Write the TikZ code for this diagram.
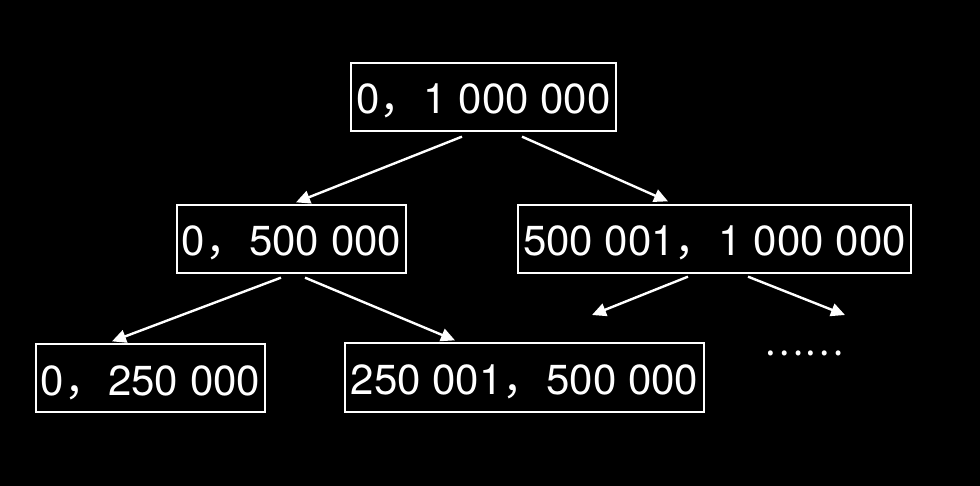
\documentclass[tikz,border=0pt]{standalone}
\usepackage{fontspec}
\setmainfont{TeX Gyre Heros}
\newfontfamily\cjk{Noto Sans CJK SC}
\usetikzlibrary{arrows.meta}
\newcommand\fwcomma{{\cjk ，}\hspace{2pt}}
\begin{document}
\begin{tikzpicture}[x=1pt,y=-1pt,
  box/.style={draw=white, line width=1.3pt, text=white, inner sep=0pt,
    text height=34pt, text depth=0pt,
    font=\fontsize{42}{42}\selectfont},
  arr/.style={draw=white, line width=2.4pt, -{Triangle[length=14pt,width=13pt]}}]
\fill[black] (0,0) rectangle (980,486);
\useasboundingbox (0,0) rectangle (980,486);
\node[box, minimum width=265pt, minimum height=68pt] (b1) at (483.5,97) {0\fwcomma 1 000 000};
\node[box, minimum width=229pt, minimum height=68pt] (b2) at (291.5,239) {0\fwcomma 500 000};
\node[box, minimum width=393pt, minimum height=68pt] (b3) at (714.5,239) {500 001\fwcomma 1 000 000};
\node[box, minimum width=229pt, minimum height=68pt] (b4) at (150.5,378) {0\fwcomma 250 000};
\node[box, minimum width=359pt, minimum height=69pt] (b5) at (524.5,377.5) {250 001\fwcomma 500 000};
\node[text=white, inner sep=0pt, font=\cjk\fontsize{37}{37}\selectfont] (dots) at (804,353) {……};
\coordinate (e5) at (592,315);
\coordinate (e6) at (845,315);
\draw[arr] ([xshift=-21.5pt,yshift=-5pt]b1.south) -- ([xshift=4.5pt,yshift=2pt]b2.north);
\draw[arr] ([xshift=38.5pt,yshift=-5pt]b1.south) -- ([xshift=-46.5pt,yshift=3pt]b3.north);
\draw[arr] ([xshift=-10.5pt,yshift=-4pt]b2.south) -- ([xshift=-38.5pt,yshift=2pt]b4.north);
\draw[arr] ([xshift=13.5pt,yshift=-4pt]b2.south) -- ([xshift=-69.5pt,yshift=2pt]b5.north);
\draw[arr] ([xshift=-26.5pt,yshift=-3pt]b3.south) -- (e5);
\draw[arr] ([xshift=33.5pt,yshift=-3pt]b3.south) -- (e6);
\end{tikzpicture}
\end{document}
